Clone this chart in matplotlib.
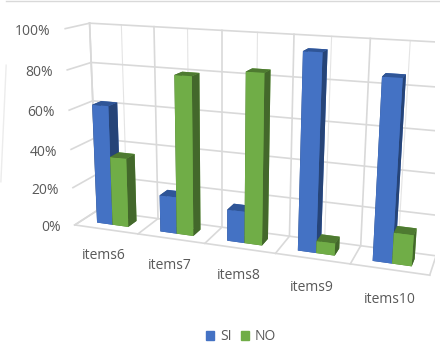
import matplotlib; matplotlib.use("Agg")
import matplotlib.pyplot as plt
from matplotlib.lines import Line2D
from matplotlib.patches import Rectangle
import numpy as np

plt.rcParams['font.family'] = ['Open Sans', 'DejaVu Sans']

categories = ['items6', 'items7', 'items8', 'items9', 'items10']
si_values = [62, 19, 16, 95, 86]
no_values = [36, 80, 84, 6, 15]
z_ticks = [0, 20, 40, 60, 80, 100]
z_labels = ['0%', '20%', '40%', '60%', '80%', '100%']

BLUE = ['#2f5597', '#2f5597', '#4472c4', '#4472c4', '#264478', '#264478']
GREEN = ['#4e7a31', '#4e7a31', '#70ad47', '#70ad47', '#43682b', '#43682b']
GRID = '#d9d9d9'
TEXT = '#595959'

fig = plt.figure(figsize=(4.4, 3.43), dpi=100)
ax = fig.add_axes([0.023, 0.014, 1.06, 1.12], projection='3d')
ax.computed_zorder = False
ax.set_proj_type('persp', focal_length=0.4)
ax.view_init(elev=15, azim=-71, roll=-0.5)
ax.set_box_aspect((5, 0.65, 2.8), zoom=1.1)
ax.set_xlim(0, 5)
ax.set_ylim(0, 1)
ax.set_zlim(0, 100)
ax.set_axis_off()
for axis in (ax.xaxis, ax.yaxis, ax.zaxis):
    axis.set_visible(False)

n = len(categories)

# back wall and side wall grid
for z in z_ticks:
    ax.plot([0, n], [1, 1], [z, z], color=GRID, lw=1.2, zorder=1)
    ax.plot([0, 0], [0, 1], [z, z], color=GRID, lw=1.2, zorder=1)
for i in range(n + 1):
    ax.plot([i, i], [1, 1], [0, 100], color=GRID, lw=1.2, zorder=1)
    ax.plot([i, i], [0, 1], [0, 0], color=GRID, lw=1.2, zorder=1)
    if i < n:
        ax.plot([i + 0.5] * 2, [1, 1], [0, 100], color=GRID, lw=0.8, alpha=0.7, zorder=1)
ax.plot([0, n], [0, 0], [0, 0], color=GRID, lw=1.2, zorder=1)
ax.plot([0, 0], [1, 1], [0, 100], color=GRID, lw=1.2, zorder=1)

# bars, one collection per series so green stays in front of blue
pos = np.arange(n)
bar_w = 0.25
ys = np.full(n, 0.3)
ax.bar3d(pos + 0.25, ys, np.zeros(n), bar_w, 0.4, si_values, color=BLUE * n, shade=False, zorder=2)
ax.bar3d(pos + 0.25 + bar_w, ys, np.zeros(n), bar_w, 0.4, no_values, color=GREEN * n, shade=False, zorder=3)

# tick labels
for z, lab in zip(z_ticks, z_labels):
    ax.text(-0.19, -0.1, z - 1.5, lab, ha='right', va='center', fontsize=10, color=TEXT)
for i, lab in enumerate(categories):
    ax.text(i + 0.56, -0.3, -11, lab, ha='center', va='center', fontsize=10, color=TEXT)

# legend
handles = [Rectangle((0, 0), 1, 1, color='#4472c4'), Rectangle((0, 0), 1, 1, color='#70ad47')]
fig.legend(handles, ['SI', 'NO'], loc='lower center', bbox_to_anchor=(0.548, -0.04), ncol=2,
           frameon=False, fontsize=10, labelcolor=TEXT, handlelength=0.6, handleheight=0.6,
           columnspacing=0.7, handletextpad=0.4)

# frame edges of the neighbouring panel
fig.add_artist(Line2D([0.014, 1], [0.998, 0.998], color=GRID, lw=1))
fig.add_artist(Line2D([0.014, 0.002], [0.81, 0.47], color='#ececec', lw=1))

plt.savefig("out.png", dpi=100)
